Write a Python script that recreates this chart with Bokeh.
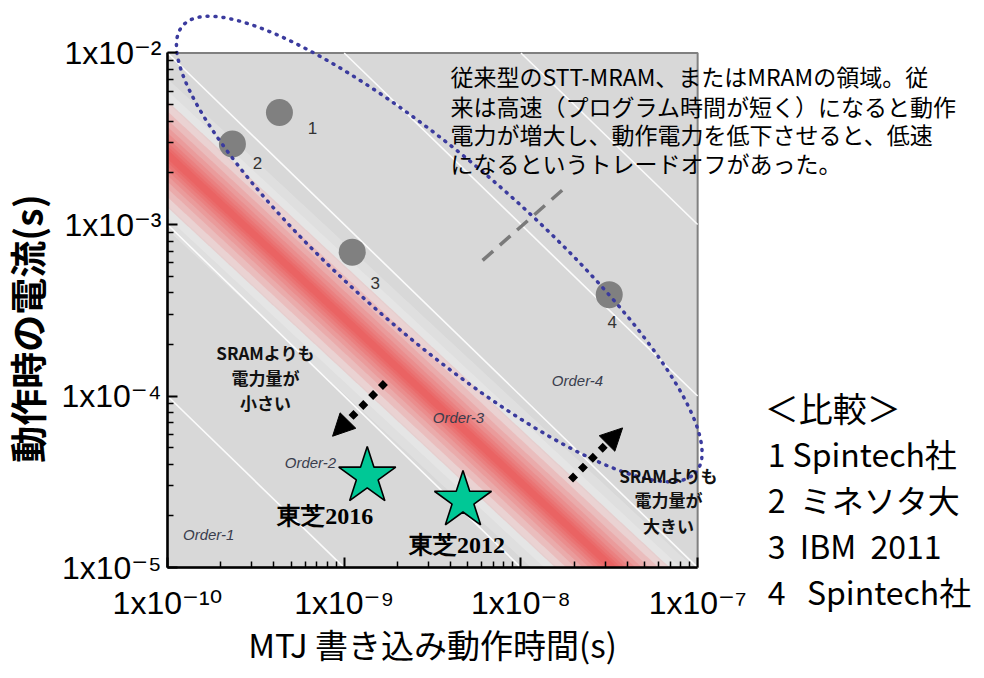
import numpy as np
from bokeh.plotting import figure
from bokeh.models import (ColumnDataSource, FixedTicker, CustomJSTickFormatter, Label,
                          Arrow, NormalHead, Range1d)
from bokeh.core.properties import value
from bokeh.embed import file_html
from bokeh.resources import INLINE

# ---------------- data ----------------
x_ticks = [1e-10, 1e-9, 1e-8, 1e-7]
y_ticks = [1e-5, 1e-4, 1e-3, 1e-2]
x_bounds = (1e-10, 1e-7)
y_bounds = (1e-5, 1e-2)

device_ids = ["1", "2", "3", "4"]
device_time = [4.3e-10, 2.33e-10, 1.11e-9, 3.16e-8]
device_current = [4.5e-3, 2.95e-3, 6.9e-4, 3.9e-4]

toshiba_names = ["東芝2016", "東芝2012"]
toshiba_time = [1.35e-9, 4.7e-9]
toshiba_current = [3.4e-5, 2.46e-5]

energy_levels = [1e-14, 1e-13, 1e-12, 1e-11, 1e-10]   # constant I*t lines

order_names = ["Order-1", "Order-2", "Order-3", "Order-4"]
order_time = [1.71e-10, 6.44e-10, 4.43e-9, 2.09e-8]
order_current = [1.55e-5, 4.12e-5, 7.53e-5, 1.24e-4]

band_time = [1e-10, 1e-7]
band_current = [2.57e-3, 3.46e-6]

ellipse_center_time = 3.45e-9
ellipse_center_current = 7.2e-4
ellipse_semi_major_dec = 1.95
ellipse_semi_minor_dec = 0.5
ellipse_tilt_deg = 42.0

note_lines = ["従来型のSTT-MRAM、またはMRAMの領域。従",
              "来は高速（プログラム時間が短く）になると動作",
              "電力が増大し、動作電力を低下させると、低速",
              "になるというトレードオフがあった。"]
note_current = [7.3e-3, 4.94e-3, 3.35e-3, 2.27e-3]
note_time = 4.0e-9

small_lines = ["SRAMよりも", "電力量が", "小さい"]
small_current = [1.80e-4, 1.29e-4, 9.2e-5]
small_time = 3.59e-10
large_lines = ["SRAMよりも", "電力量が", "大きい"]
large_current = [3.46e-5, 2.48e-5, 1.75e-5]
large_time = 6.84e-8

NB = "\u00a0"
legend_title = "＜比較＞"
legend_rows = ["1 Spintech社", "2" + NB * 2 + "ミネソタ大", "3" + NB * 2 + "IBM" + NB * 2 + "2011",
               "4" + NB * 3 + "Spintech社"]
legend_time = 2.49e-7
legend_current = [8.61e-5, 4.65e-5, 2.51e-5, 1.355e-5, 7.31e-6]

# ---------------- figure ----------------
p = figure(width=976, height=670, x_axis_type="log", y_axis_type="log",
           x_range=Range1d(10 ** -10.945, 10 ** -5.422), y_range=Range1d(10 ** -5.600, 10 ** -1.694),
           output_backend="svg", toolbar_location=None,
           min_border_left=0, min_border_right=0, min_border_top=0, min_border_bottom=0,
           background_fill_color="white", border_fill_color="white", outline_line_color=None)
p.grid.visible = False

# plot box
p.quad(left=[x_bounds[0]], right=[x_bounds[1]], bottom=[y_bounds[0]], top=[y_bounds[1]],
       fill_color="#d8d8d8", line_color="#808080", line_width=2)

# glow + red band (clipped to the box)
lbx = np.linspace(np.log10(x_bounds[0]), np.log10(x_bounds[1]), 400)
slope = (np.log10(band_current[1]) - np.log10(band_current[0])) / (np.log10(band_time[1]) - np.log10(band_time[0]))
lbc = np.log10(band_current[0]) + slope * (lbx - np.log10(band_time[0]))
bx = 10 ** lbx
lo, hi = np.log10(y_bounds[0]), np.log10(y_bounds[1])
def band(w, color, alpha):
    y1 = 10 ** np.clip(lbc - w, lo, hi)
    y2 = 10 ** np.clip(lbc + w, lo, hi)
    p.varea(x=bx, y1=y1, y2=y2, fill_color=color, fill_alpha=alpha)
for w in [0.44, 0.37, 0.30]:
    band(w, "white", 0.2)
for w in [0.31, 0.25, 0.2, 0.16, 0.125, 0.095, 0.07, 0.047, 0.027]:
    band(w, "#ee2a2a", 0.12)

# constant-energy white lines, limited to the box
xs, ys = [], []
for e in energy_levels:
    x0 = max(x_bounds[0], e / y_bounds[1])
    x1 = min(x_bounds[1], e / y_bounds[0])
    if x1 > x0:
        xs.append([x0, x1])
        ys.append([e / x0, e / x1])
p.multi_line(xs=xs, ys=ys, line_color="white", line_width=1.6, line_alpha=0.9)

# devices
src = ColumnDataSource(dict(x=device_time, y=device_current, t=device_ids,
                            dx=[33, 25, 23, 3], dy=[16, 19, 31, 27]))
p.scatter("x", "y", source=src, size=27, fill_color="#808080", line_color=None)
p.text("x", "y", text="t", source=src, x_offset="dx", y_offset="dy",
       text_font=value("Liberation Sans"), text_font_size="17px", text_color="#333333",
       text_align="center", text_baseline="middle")

# order labels
p.text(order_time, order_current, text=order_names, text_font=value("Liberation Sans"),
       text_font_style="italic", text_font_size="15px", text_color="#3a3d4d",
       text_align="center", text_baseline="middle")

# stars
ssrc = ColumnDataSource(dict(x=toshiba_time, y=toshiba_current, t=toshiba_names,
                             dx=[-42, -6], dy=[40, 44]))
p.scatter("x", "y", source=ssrc, marker="star", size=60, fill_color="#00c896",
          line_color="black", line_width=1.6)
p.text("x", "y", text="t", source=ssrc, x_offset="dx", y_offset="dy",
       text_font=value("Liberation Serif"), text_font_style="bold", text_font_size="24px",
       text_color="black", text_align="center", text_baseline="middle")

# gray dashed line
p.line([6.07e-9, 1.79e-8], [6.18e-4, 1.65e-3], line_color="#7a7a7a", line_width=3.5,
       line_dash="14 9")

# arrows
for (x0, y0, x1, y1) in [(1.71e-9, 1.20e-4, 8.59e-10, 5.83e-5),
                         (1.91e-8, 3.24e-5, 3.76e-8, 6.52e-5)]:
    p.add_layout(Arrow(x_start=x0, y_start=y0, x_end=x1, y_end=y1,
                       line_color="black", line_width=7, line_dash="7 7",
                       end=NormalHead(size=22, fill_color="black", line_color="black", line_width=1)))

# dotted ellipse
t = np.linspace(0, 2 * np.pi, 500)
th = np.deg2rad(ellipse_tilt_deg)
a, b = ellipse_semi_major_dec, ellipse_semi_minor_dec
ex = np.log10(ellipse_center_time) + a * np.cos(t) * np.cos(th) + b * np.sin(t) * np.sin(th)
ey = np.log10(ellipse_center_current) - a * np.cos(t) * np.sin(th) + b * np.sin(t) * np.cos(th)
p.line(10 ** ex, 10 ** ey, line_color="#3b3b9e", line_width=3.5, line_dash="1 7",
       line_cap="round")

# text annotations
for txt, yv in zip(note_lines, note_current):
    p.add_layout(Label(x=note_time, y=yv, text=txt, text_font="Noto Sans CJK JP",
                       text_font_size="23px", text_color="black", text_baseline="middle",
                       text_align="left"))
for txt, yv in zip(small_lines, small_current):
    p.add_layout(Label(x=small_time, y=yv, text=txt, text_font="Noto Sans CJK JP",
                       text_font_style="bold", text_font_size="17px", text_color="#111111",
                       text_baseline="middle", text_align="center"))
for txt, yv in zip(large_lines, large_current):
    p.add_layout(Label(x=large_time, y=yv, text=txt, text_font="Noto Sans CJK JP",
                       text_font_style="bold", text_font_size="17px", text_color="#111111",
                       text_baseline="middle", text_align="center"))

p.add_layout(Label(x=legend_time, y=legend_current[0], text=legend_title,
                   text_font="Noto Sans CJK JP", text_font_size="34px", text_baseline="middle",
                   text_color="black", x_offset=-3))
for txt, yv in zip(legend_rows, legend_current[1:]):
    p.add_layout(Label(x=legend_time, y=yv, text=txt, text_font="Noto Sans CJK JP",
                       text_font_size="32px", text_baseline="middle", text_color="black"))

# axes (drawn at fixed positions on the box edges)
fmt = CustomJSTickFormatter(code="""
const sup = {'-':'\u207b','0':'\u2070','1':'\u00b9','2':'\u00b2','3':'\u00b3','4':'\u2074',
             '5':'\u2075','6':'\u2076','7':'\u2077','8':'\u2078','9':'\u2079'};
const e = Math.round(Math.log10(tick)).toString();
return '1x10' + e.split('').map(c => sup[c]).join('');
""")
xminor = [k * 10.0 ** e for e in range(-10, -7) for k in range(2, 10)]
yminor = [k * 10.0 ** e for e in range(-5, -2) for k in range(2, 10)]
p.xaxis.ticker = FixedTicker(ticks=x_ticks, minor_ticks=xminor)
p.yaxis.ticker = FixedTicker(ticks=y_ticks, minor_ticks=yminor)
p.xaxis.fixed_location = y_bounds[0]
p.yaxis.fixed_location = x_bounds[0]
p.xaxis.bounds = x_bounds
p.yaxis.bounds = y_bounds
for ax in (p.xaxis[0], p.yaxis[0]):
    ax.formatter = fmt
    ax.axis_line_color = "black"
    ax.axis_line_width = 2.5
    ax.major_tick_in = 10
    ax.major_tick_out = 0
    ax.minor_tick_in = 6
    ax.minor_tick_out = 0
    ax.major_tick_line_color = "black"
    ax.major_tick_line_width = 2
    ax.minor_tick_line_color = "black"
    ax.minor_tick_line_width = 1.5
    ax.major_label_text_font = "Liberation Sans, DejaVu Sans"
    ax.major_label_text_font_size = "32px"
    ax.major_label_text_color = "black"
    ax.axis_label_text_font = "Noto Sans CJK JP"
    ax.axis_label_text_color = "black"
p.xaxis.axis_label = "MTJ 書き込み動作時間(s)"
p.yaxis.axis_label = "動作時の電流(s)\u3000"
p.xaxis.axis_label_text_font_size = "33px"
p.xaxis.axis_label_text_font_style = "normal"
p.yaxis.axis_label_text_font_size = "37px"
p.yaxis.axis_label_text_font_style = "bold"
p.xaxis.major_label_standoff = 17
p.yaxis.major_label_standoff = 6
p.xaxis.axis_label_standoff = -4
p.yaxis.axis_label_standoff = 4

open("out.html", "w").write(file_html(p, INLINE))
